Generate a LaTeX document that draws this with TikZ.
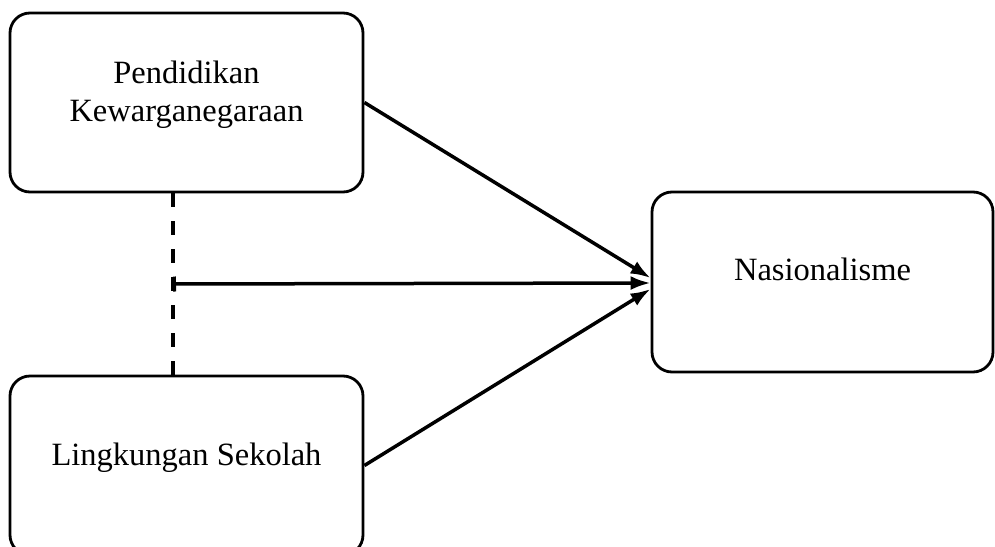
\documentclass[tikz,border=0pt]{standalone}
\usepackage{fontspec}
\setmainfont{Liberation Serif}
\usetikzlibrary{arrows.meta}
\begin{document}
\begin{tikzpicture}[x=1pt, y=-1pt, line join=round,
	box/.style={draw, line width=2.8pt, rounded corners=20pt, inner sep=0pt},
	txt/.style={font=\fontsize{32.5}{38}\selectfont, align=center, inner sep=0pt},
	link/.style={line width=3.5pt, -{Latex[length=20pt,width=14pt]}}]
	\useasboundingbox (0,0) rectangle (995,546);
	\clip (0,0) rectangle (995,546);
	% kotak variabel
	\node[box, minimum width=353pt, minimum height=179pt] (pkn) at (186.5,102.5) {};
	\node[box, minimum width=353pt, minimum height=179pt] (lks) at (186.5,465.5) {};
	\node[box, minimum width=341pt, minimum height=180pt] (nas) at (822.5,282) {};
	\node[txt] (pkn-t) at (186.5,94.5) {Pendidikan\\Kewarganegaraan};
	\node[txt, anchor=base] (lks-t) at (186.5,465) {Lingkungan Sekolah};
	\node[txt, anchor=base] (nas-t) at (822.5,280) {Nasionalisme};
	% moderasi
	\coordinate (mod) at (173,284);
	\draw[line width=3.5pt, dash pattern=on 14pt off 14pt] (pkn.south -| mod) -- (lks.north -| mod);
	\draw[link, {Bar[width=15pt,line width=3pt]}-{Latex[length=20pt,width=14pt]}] (mod) -- ([yshift=-1pt]nas.west);
	\draw[link] (pkn.east) -- ([yshift=4pt]nas.west);
	\draw[link] (lks.east) -- ([yshift=-7pt]nas.west);
\end{tikzpicture}
\end{document}
